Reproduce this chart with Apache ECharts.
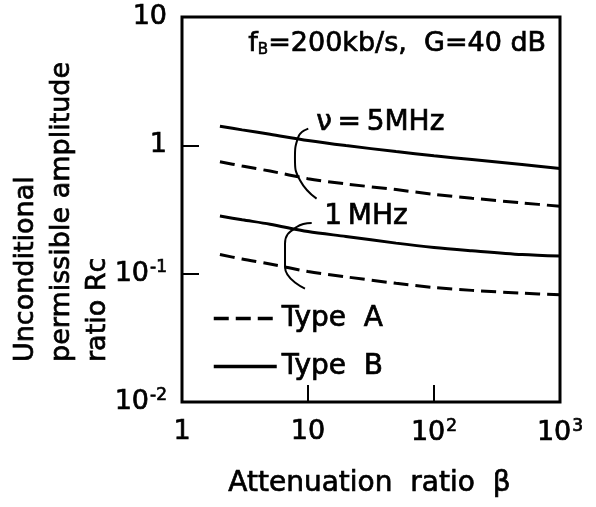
<!DOCTYPE html>
<html>
<head>
<meta charset="utf-8">
<script src="https://cdn.jsdelivr.net/npm/echarts@6/dist/echarts.min.js"></script>
<style>
  html, body { margin: 0; padding: 0; background: #fff; }
  #main { width: 596px; height: 507px; }
</style>
</head>
<body>
<div id="main"></div>
<script>
// attenuation ratio beta (x) and Rc values (y)
const beta = [2, 3, 5, 10, 20, 50, 100, 200, 500, 1000];
const typeB_5MHz = [1.41, 1.32, 1.22, 1.09, 0.995, 0.895, 0.83, 0.775, 0.71, 0.66];
const typeA_5MHz = [0.745, 0.69, 0.63, 0.55, 0.50, 0.452, 0.415, 0.387, 0.356, 0.335];
const typeB_1MHz = [0.281, 0.263, 0.243, 0.213, 0.195, 0.173, 0.16, 0.151, 0.141, 0.137];
const typeA_1MHz = [0.141, 0.130, 0.119, 0.104, 0.0944, 0.0841, 0.078, 0.0741, 0.0705, 0.0685];

// bracket strokes tying the labels to each pair of curves (data coords)
const bracket5 = [[10.05, 1.35], [8.37, 1.16], [7.88, 0.788], [8.64, 0.535], [11.7, 0.384]];
const bracket1 = [[10.7, 0.248], [8.13, 0.231], [6.57, 0.171], [6.57, 0.1125], [9.46, 0.0764]];

const xTicks = ['1', '10', '10{sup|2}', '10{sup|3}'];
const yTicks = ['10{sup|-2}', '10{sup|-1}', '1', '10'];

const FONT = 'DejaVu Sans';
const INK = { textBorderColor: '#000', textBorderWidth: 0.7 };

var chartDom = document.getElementById('main');
var myChart = echarts.init(chartDom);
var option;

const pairs = (ys) => beta.map((b, i) => [b, ys[i]]);

const curve = (name, ys, dashed) => ({
    name: name,
    type: 'line',
    data: pairs(ys),
    symbol: 'none',
    smooth: 0.3,
    lineStyle: { color: '#000', width: 3, type: dashed ? [15, 7] : 'solid' },
    itemStyle: { color: '#000' },
    silent: true,
});

const bracket = (pts) => ({
    name: 'bracket',
    type: 'line',
    data: pts,
    symbol: 'none',
    smooth: 0.5,
    lineStyle: { color: '#000', width: 2 },
    silent: true,
});

const supRich = {
    sup: Object.assign({ fontSize: 17, fontFamily: FONT, color: '#000', verticalAlign: 'top', padding: [0, 0, 12, 1] }, INK)
};

option = {
    animation: false,
    backgroundColor: '#fff',
    grid: {
        left: 182, right: 36, top: 17, bottom: 105,
        show: true, borderColor: '#000', borderWidth: 3,
    },
    xAxis: {
        type: 'log', logBase: 10, min: 1, max: 1000,
        axisLine: { show: false },
        axisTick: { show: true, inside: true, length: 17, lineStyle: { color: '#000', width: 2 } },
        minorTick: { show: false },
        splitLine: { show: false },
        axisLabel: Object.assign({
            margin: 16, color: '#000', fontSize: 27, fontFamily: FONT,
            formatter: (v) => xTicks[Math.round(Math.log10(v))],
            rich: supRich,
        }, INK),
    },
    yAxis: {
        type: 'log', logBase: 10, min: 0.01, max: 10,
        axisLine: { show: false },
        axisTick: { show: true, inside: true, length: 17, lineStyle: { color: '#000', width: 2 } },
        splitLine: { show: false },
        axisLabel: Object.assign({
            margin: 15, color: '#000', fontSize: 27, fontFamily: FONT,
            formatter: (v) => yTicks[Math.round(Math.log10(v)) + 2],
            rich: supRich,
        }, INK),
    },
    legend: {
        data: ['Type  A', 'Type  B'],
        orient: 'vertical',
        left: 207, top: 298,
        itemWidth: 63, itemHeight: 14, itemGap: 17,
        selectedMode: false,
        itemStyle: { opacity: 0 },
        lineStyle: { width: 3.5 },
        textStyle: Object.assign({ color: '#000', fontSize: 28, fontFamily: FONT, lineHeight: 31 }, INK),
    },
    graphic: [
        {
            type: 'text', left: 248, top: 30,
            style: {
                text: 'f{sub|B}=200kb/s,  G=40 dB',
                fill: '#000', fontSize: 27, fontFamily: FONT,
                stroke: '#000', lineWidth: 0.7,
                rich: { sub: { fontSize: 15, fontFamily: FONT, fill: '#000', stroke: '#000', lineWidth: 0.6, verticalAlign: 'bottom', padding: [10, 0, 0, 0] } },
            },
        },
        {
            type: 'text', left: 316, top: 108,
            style: { text: 'ν\u2009=\u20095MHz', fill: '#000', fontSize: 28, fontFamily: FONT, stroke: '#000', lineWidth: 0.7 },
        },
        {
            type: 'text', left: 324, top: 202,
            style: { text: '1\u2009MHz', fill: '#000', fontSize: 28, fontFamily: FONT, stroke: '#000', lineWidth: 0.7 },
        },
        {
            type: 'text', x: 8, y: 362, rotation: Math.PI / 2,
            style: {
                text: 'Unconditional\npermissible amplitude\nratio Rc',
                fill: '#000', fontSize: 27, fontFamily: FONT, lineHeight: 36,
                textAlign: 'left', textVerticalAlign: 'top',
                stroke: '#000', lineWidth: 0.7,
            },
        },
        {
            type: 'text', left: 228, top: 469,
            style: { text: 'Attenuation  ratio  β', fill: '#000', fontSize: 28, fontFamily: FONT, stroke: '#000', lineWidth: 0.7 },
        },
    ],
    series: [
        curve('Type  B', typeB_5MHz, false),
        curve('Type  A', typeA_5MHz, true),
        curve('Type  B', typeB_1MHz, false),
        curve('Type  A', typeA_1MHz, true),
        bracket(bracket5),
        bracket(bracket1),
    ],
};

option && myChart.setOption(option);
</script>
</body>
</html>
